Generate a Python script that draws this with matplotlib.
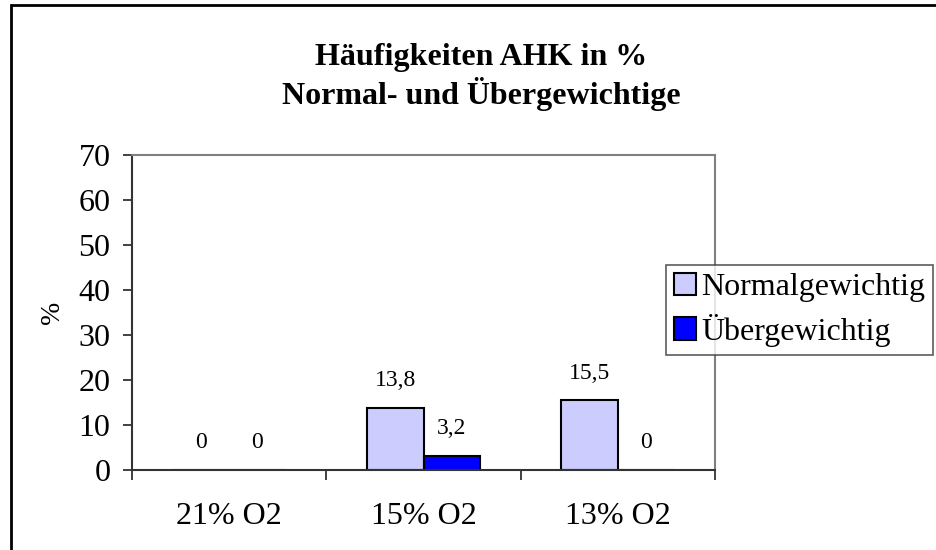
import matplotlib.pyplot as plt
from matplotlib.patches import Rectangle
import numpy as np

plt.rcParams['font.family'] = ['Liberation Serif', 'DejaVu Serif']

categories = ['21% O2', '15% O2', '13% O2']
normal = [0, 13.8, 15.5]
ueber = [0, 3.2, 0]
series_names = ['Normalgewichtig', 'Übergewichtig']

fig = plt.figure(figsize=(9.36, 5.5), dpi=100)
ax = fig.add_axes([132/936, 80/550, 583/936, 315/550])

x = np.arange(len(categories)) + 0.5
w = 0.29
b1 = ax.bar(x - w/2, normal, w, color='#CCCCFF', edgecolor='black', linewidth=1.5, label=series_names[0])
b2 = ax.bar(x + w/2, ueber, w, color='#0000FF', edgecolor='black', linewidth=1.5, label=series_names[1])

for bars, vals in ((b1, normal), (b2, ueber)):
    for r, v in zip(bars, vals):
        txt = ('%g' % v).replace('.', ',')
        ax.annotate(txt, (r.get_x() + r.get_width()/2, v), xytext=(0, 19.5),
                    textcoords='offset points', ha='center', va='center', fontsize=17)

ax.set_xlim(0, 3)
ax.set_ylim(0, 70)
ax.set_yticks(range(0, 71, 10))
ax.set_xticks([0, 1, 2, 3])
ax.set_xticklabels([])
ax.set_xticks(x, minor=True)
ax.set_xticklabels(categories, minor=True, fontsize=23)
ax.tick_params(axis='x', which='major', direction='out', length=7, width=1.3, color='#333333')
ax.tick_params(axis='x', which='minor', length=0, pad=23)
ax.tick_params(axis='y', direction='out', length=6.5, width=1.3, color='#333333', labelsize=23, pad=9)

for s in ('left', 'bottom'):
    ax.spines[s].set_color('#333333')
    ax.spines[s].set_linewidth(1.5)
for s in ('top', 'right'):
    ax.spines[s].set_color('#808080')
    ax.spines[s].set_linewidth(1.5)

fig.text(481/936, 1 - 65/550, 'Häufigkeiten AHK in %', ha='center', va='baseline',
         fontsize=23, fontweight='bold')
fig.text(481/936, 1 - 104/550, 'Normal- und Übergewichtige', ha='center', va='baseline',
         fontsize=23, fontweight='bold')
fig.text(52/936, 1 - 312/550, '%', rotation=90, ha='center', va='center', fontsize=20)

leg = fig.legend(handles=[b1, b2], loc='upper left', bbox_to_anchor=(666/936, 1 - 265/550),
                 fontsize=23, frameon=True, fancybox=False, handlelength=0.7, handleheight=0.7,
                 handletextpad=0.15, borderpad=0.25, labelspacing=0.35, borderaxespad=0)
leg.get_frame().set_edgecolor('#333333')
leg.get_frame().set_linewidth(1.2)

fig.patches.append(Rectangle((11/936, -0.5), 2, 0.5 + 1 - 5/550, transform=fig.transFigure,
                             fill=False, edgecolor='black', linewidth=2))

fig.savefig('out.png', dpi=100)
